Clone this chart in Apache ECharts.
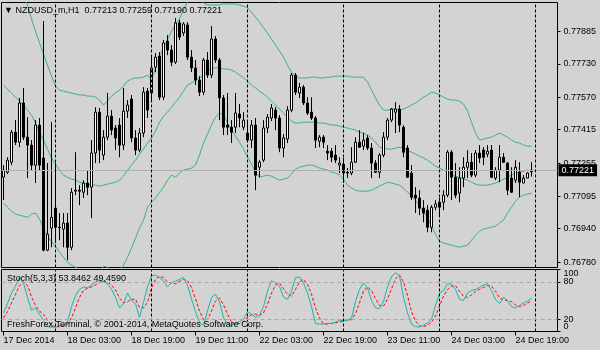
<!DOCTYPE html>
<html><head><meta charset="utf-8">
<script src="https://cdn.jsdelivr.net/npm/echarts@6/dist/echarts.min.js"></script>
<style>html,body{margin:0;padding:0;background:#d3d3d3;}#c{width:600px;height:350px;}</style>
</head><body><div id="c"></div>
<script>
const symbolTitle = '\u25BC NZDUSD_m,H1  0.77213 0.77259 0.77190 0.77221';
const stochTitle = 'Stoch(5,3,3) 53.8462 49.4590';
const copyright = 'FreshForex Terminal, \u00A9 2001-2014, MetaQuotes Software Corp.';
const firstLabel = '17 Dec 2014';
const sessions = [['17 Dec',11,23],['18 Dec',0,23],['19 Dec',0,23],['22 Dec',0,23],['23 Dec',0,23],['24 Dec',0,23],['25 Dec',0,5]];
const priceTicks = [0.76780,0.76940,0.77095,0.77255,0.77415,0.77570,0.77730,0.77885];
const stochInnerTicks = [20,80];
const stochEdgeTicks = [0,100];
const stochLevels = [20,80];
const lastPrice = 0.77221;
const priceMin = 0.76754, priceMax = 0.78025;

// [open, close, low, high]
const candles = [
[0.77187,0.77221,0.77077,0.77245],[0.77211,0.77269,0.77202,0.77283],[0.77259,0.77403,0.77245,0.77413],[0.77403,0.77355,0.77341,0.77461],
[0.77355,0.77543,0.77331,0.77567],[0.77543,0.77379,0.77365,0.77615],[0.77379,0.77341,0.77183,0.77475],[0.77341,0.77245,0.77221,0.77365],
[0.77245,0.77437,0.77159,0.77461],[0.77437,0.77245,0.77221,0.77471],[0.77279,0.76837,0.76832,0.77936],[0.76837,0.76914,0.76832,0.77255],
[0.76943,0.76995,0.76851,0.77451],[0.77039,0.76947,0.76871,0.77255],[0.76947,0.76945,0.76885,0.77015],[0.76938,0.76967,0.76851,0.77015],
[0.76967,0.76851,0.76789,0.77015],[0.76851,0.77115,0.76837,0.77135],[0.77120,0.77125,0.77101,0.77307],[0.77125,0.77120,0.77053,0.77149],
[0.77115,0.77159,0.77087,0.77173],[0.77159,0.77139,0.77101,0.77221],[0.77139,0.77303,0.76991,0.77365],[0.77303,0.77499,0.77255,0.77523],
[0.77499,0.77317,0.77255,0.77519],[0.77293,0.77379,0.77269,0.77413],[0.77379,0.77480,0.77365,0.77591],[0.77480,0.77413,0.77389,0.77509],
[0.77423,0.77375,0.77317,0.77437],[0.77437,0.77341,0.77283,0.77471],[0.77341,0.77504,0.77317,0.77615],[0.77504,0.77533,0.77471,0.77557],
[0.77562,0.77375,0.77355,0.77581],[0.77375,0.77317,0.77293,0.77413],[0.77317,0.77399,0.77307,0.77423],[0.77399,0.77595,0.77379,0.77619],
[0.77600,0.77509,0.77471,0.77615],[0.77591,0.77711,0.77557,0.77773],[0.77715,0.77763,0.77691,0.77783],[0.77768,0.77571,0.77557,0.77787],
[0.77571,0.77831,0.77557,0.77845],[0.77840,0.77797,0.77773,0.77869],[0.77797,0.77739,0.77720,0.77821],[0.77739,0.77927,0.77730,0.77951],
[0.77927,0.77859,0.77845,0.77941],[0.77879,0.77922,0.77864,0.77931],[0.77917,0.77763,0.77749,0.77931],[0.77763,0.77711,0.77691,0.77797],
[0.77711,0.77653,0.77629,0.77749],[0.77653,0.77595,0.77576,0.77672],[0.77595,0.77749,0.77581,0.77759],[0.77749,0.77677,0.77663,0.77787],
[0.77677,0.77850,0.77663,0.77912],[0.77850,0.77749,0.77735,0.77864],[0.77749,0.77567,0.77461,0.77759],[0.77567,0.77427,0.77389,0.77581],
[0.77437,0.77427,0.77389,0.77591],[0.77427,0.77403,0.77351,0.77461],[0.77427,0.77495,0.77399,0.77591],[0.77490,0.77471,0.77427,0.77538],
[0.77427,0.77461,0.77413,0.77499],[0.77399,0.77365,0.77355,0.77461],[0.77365,0.77437,0.77327,0.77461],[0.77437,0.77197,0.77125,0.77471],
[0.77235,0.77259,0.77187,0.77269],[0.77269,0.77423,0.77259,0.77461],[0.77423,0.77475,0.77399,0.77490],[0.77471,0.77519,0.77456,0.77538],
[0.77509,0.77471,0.77413,0.77523],[0.77471,0.77327,0.77307,0.77485],[0.77327,0.77375,0.77283,0.77394],[0.77370,0.77509,0.77351,0.77528],
[0.77509,0.77677,0.77499,0.77687],[0.77677,0.77595,0.77581,0.77687],[0.77591,0.77619,0.77567,0.77639],[0.77619,0.77543,0.77533,0.77629],
[0.77543,0.77495,0.77485,0.77571],[0.77499,0.77471,0.77461,0.77571],[0.77471,0.77365,0.77327,0.77480],[0.77360,0.77379,0.77331,0.77389],
[0.77379,0.77355,0.77327,0.77389],[0.77312,0.77303,0.77269,0.77341],[0.77312,0.77283,0.77259,0.77327],[0.77293,0.77269,0.77255,0.77341],
[0.77245,0.77255,0.77207,0.77283],[0.77250,0.77207,0.77159,0.77279],[0.77211,0.77207,0.77183,0.77231],[0.77207,0.77259,0.77197,0.77331],
[0.77259,0.77355,0.77255,0.77379],[0.77355,0.77331,0.77327,0.77413],[0.77336,0.77365,0.77317,0.77399],[0.77375,0.77327,0.77317,0.77389],
[0.77327,0.77255,0.77183,0.77351],[0.77255,0.77211,0.77207,0.77269],[0.77211,0.77293,0.77183,0.77303],[0.77293,0.77379,0.77283,0.77403],
[0.77379,0.77461,0.77365,0.77471],[0.77461,0.77514,0.77451,0.77519],[0.77499,0.77514,0.77399,0.77547],[0.77514,0.77437,0.77403,0.77533],
[0.77427,0.77307,0.77283,0.77437],[0.77327,0.77187,0.77183,0.77341],[0.77207,0.77091,0.77077,0.77245],[0.77101,0.77087,0.77015,0.77139],
[0.77087,0.77039,0.77005,0.77125],[0.77039,0.77015,0.76971,0.77077],[0.77029,0.76947,0.76923,0.77053],[0.76947,0.77043,0.76923,0.77053],
[0.77043,0.77058,0.77029,0.77077],[0.77067,0.77043,0.77005,0.77087],[0.77067,0.77101,0.77029,0.77125],[0.77101,0.77307,0.77091,0.77317],
[0.77307,0.77187,0.77077,0.77317],[0.77187,0.77101,0.77087,0.77255],[0.77111,0.77183,0.77067,0.77235],[0.77183,0.77235,0.77139,0.77283],
[0.77235,0.77259,0.77183,0.77317],[0.77259,0.77197,0.77187,0.77303],[0.77197,0.77303,0.77187,0.77317],[0.77303,0.77279,0.77255,0.77341],
[0.77317,0.77283,0.77245,0.77331],[0.77298,0.77312,0.77283,0.77341],[0.77317,0.77187,0.77183,0.77341],[0.77183,0.77221,0.77173,0.77235],
[0.77221,0.77283,0.77163,0.77341],[0.77283,0.77259,0.77255,0.77303],[0.77255,0.77125,0.77101,0.77259],[0.77183,0.77115,0.77111,0.77235],
[0.77173,0.77235,0.77159,0.77269],[0.77211,0.77163,0.77091,0.77259],[0.77159,0.77183,0.77159,0.77197],[0.77183,0.77207,0.77183,0.77211],
[0.77213,0.77221,0.77190,0.77259]
];

const bandUpper = [0.78229,0.78210,0.78157,0.78123,0.78085,0.78051,0.78013,0.77946,0.77888,0.77831,
0.77778,0.77725,0.77672,0.77624,0.77605,0.77600,0.77595,0.77591,0.77586,0.77581,
0.77581,0.77576,0.77576,0.77571,0.77557,0.77533,0.77552,0.77576,0.77591,0.77605,
0.77624,0.77648,0.77658,0.77663,0.77663,0.77667,0.77677,0.77653,0.77711,0.77768,
0.77807,0.77845,0.77888,0.77917,0.77946,0.77989,0.78027,0.78061,0.78075,0.78061,
0.78023,0.78013,0.78013,0.78013,0.78013,0.78018,0.78018,0.78018,0.78018,0.78013,
0.78008,0.77999,0.77979,0.77955,0.77931,0.77903,0.77879,0.77850,0.77821,0.77792,
0.77763,0.77725,0.77691,0.77672,0.77663,0.77663,0.77663,0.77667,0.77667,0.77663,
0.77663,0.77667,0.77667,0.77672,0.77672,0.77672,0.77672,0.77667,0.77667,0.77667,
0.77667,0.77643,0.77605,0.77567,0.77533,0.77509,0.77509,0.77514,0.77514,0.77509,
0.77514,0.77523,0.77533,0.77543,0.77557,0.77571,0.77581,0.77595,0.77591,0.77581,
0.77571,0.77562,0.77557,0.77557,0.77552,0.77538,0.77504,0.77451,0.77399,0.77365,
0.77370,0.77375,0.77379,0.77389,0.77399,0.77389,0.77379,0.77365,0.77355,0.77351,
0.77341,0.77336,0.77336];

const bandMiddle = [0.77629,0.77610,0.77591,0.77571,0.77552,0.77533,0.77509,0.77485,0.77447,0.77403,
0.77365,0.77322,0.77279,0.77250,0.77221,0.77197,0.77187,0.77178,0.77173,0.77163,
0.77159,0.77154,0.77149,0.77149,0.77144,0.77149,0.77154,0.77159,0.77163,0.77173,
0.77192,0.77221,0.77245,0.77269,0.77298,0.77322,0.77351,0.77375,0.77408,0.77451,
0.77480,0.77499,0.77523,0.77547,0.77571,0.77600,0.77629,0.77639,0.77653,0.77663,
0.77677,0.77696,0.77711,0.77711,0.77711,0.77706,0.77706,0.77701,0.77691,0.77677,
0.77663,0.77648,0.77629,0.77615,0.77600,0.77586,0.77571,0.77552,0.77533,0.77514,
0.77495,0.77475,0.77456,0.77447,0.77447,0.77451,0.77451,0.77451,0.77451,0.77447,
0.77447,0.77442,0.77437,0.77437,0.77432,0.77427,0.77423,0.77418,0.77413,0.77403,
0.77399,0.77389,0.77375,0.77355,0.77331,0.77327,0.77322,0.77322,0.77327,0.77331,
0.77327,0.77317,0.77307,0.77298,0.77288,0.77279,0.77269,0.77255,0.77240,0.77231,
0.77221,0.77211,0.77202,0.77192,0.77187,0.77178,0.77173,0.77163,0.77154,0.77149,
0.77149,0.77149,0.77154,0.77159,0.77168,0.77178,0.77187,0.77197,0.77207,0.77211,
0.77216,0.77221,0.77216];

const bandLower = [0.77063,0.77043,0.77024,0.77010,0.77005,0.77000,0.76995,0.77010,0.77015,0.76986,
0.76943,0.76904,0.76880,0.76856,0.76827,0.76803,0.76779,0.76765,0.76755,0.76746,
0.76741,0.76736,0.76731,0.76727,0.76731,0.76760,0.76755,0.76741,0.76736,0.76741,
0.76765,0.76803,0.76847,0.76895,0.76943,0.76981,0.77043,0.77067,0.77087,0.77115,
0.77139,0.77173,0.77197,0.77187,0.77207,0.77221,0.77226,0.77231,0.77245,0.77293,
0.77351,0.77394,0.77437,0.77475,0.77495,0.77485,0.77447,0.77413,0.77384,0.77355,
0.77322,0.77283,0.77250,0.77211,0.77187,0.77192,0.77197,0.77192,0.77183,0.77173,
0.77178,0.77183,0.77202,0.77226,0.77235,0.77240,0.77245,0.77245,0.77240,0.77231,
0.77226,0.77221,0.77211,0.77207,0.77197,0.77178,0.77149,0.77135,0.77125,0.77120,
0.77120,0.77120,0.77125,0.77135,0.77144,0.77154,0.77163,0.77159,0.77154,0.77149,
0.77135,0.77115,0.77096,0.77077,0.77048,0.77019,0.76995,0.76952,0.76914,0.76880,
0.76871,0.76866,0.76861,0.76856,0.76851,0.76856,0.76861,0.76885,0.76909,0.76928,
0.76938,0.76943,0.76947,0.76952,0.76967,0.76981,0.77015,0.77043,0.77072,0.77091,
0.77101,0.77106,0.77111];

const stochMain = [30,45,62,73,88,78,55,34,38,28,
18,8,7,7,9,10,16,40,58,68,
72,70,75,80,82,80,77,68,55,38,
45,62,50,45,23,47,72,90,91,87,
82,72,79,81,84,87,75,52,32,15,
10,33,55,60,48,22,13,10,13,16,
20,32,28,23,26,40,65,82,78,73,
55,52,65,87,88,78,62,40,13,12,
12,13,13,15,18,18,18,22,48,68,
78,70,50,38,37,48,72,88,95,90,
55,30,12,8,7,10,14,20,42,62,
66,77,76,68,52,50,62,66,68,71,
75,77,66,52,45,55,50,40,38,42,
46,49,53.8462];

const stochSignal = [22,32,46,60,74,80,74,56,42,33,
28,18,11,7,8,9,12,22,38,55,
66,70,72,75,79,81,80,75,67,54,
46,48,52,52,39,38,47,70,84,89,
87,80,78,77,81,84,82,71,53,33,
19,19,33,49,54,43,28,15,12,13,
16,23,27,28,26,30,44,62,75,78,
69,60,57,68,80,84,76,60,38,22,
12,12,13,14,15,17,18,19,29,46,
65,72,66,53,42,41,52,69,85,91,
80,58,32,17,9,8,10,15,25,41,
57,68,73,74,65,57,55,59,65,68,
71,74,73,65,54,51,50,48,43,40,
42,46,49.4590];

// ---- build ----
const categories = [];
sessions.forEach(([day, h0, h1]) => {
  for (let h = h0; h <= h1; h++) categories.push(day + ' ' + String(h).padStart(2, '0') + ':00');
});
const separators = [];
categories.forEach((c, i) => { if (i > 0 && c.endsWith(' 00:00')) separators.push(i); });

const FONT = 'Liberation Sans';
const txt = {fontFamily: FONT, fontSize: 9, color: '#000', fontWeight: 'normal'};
const sepLines = separators.map(i => ({xAxis: i, lineStyle: {color: '#000', type: [3, 2], width: 1}, label: {show: false}}));
const hiddenAxis = {axisLine: {show: false}, splitLine: {show: false}};

const chart = echarts.init(document.getElementById('c'), null, {renderer: 'canvas'});
chart.setOption({
  animation: false,
  backgroundColor: '#d3d3d3',
  textStyle: {fontFamily: FONT},
  title: [
    {text: symbolTitle, left: 4, top: 6, padding: 0, textStyle: txt},
    {text: stochTitle, left: 7, top: 274, padding: 0, textStyle: txt},
    {text: copyright, left: 7, top: 320, padding: 0, textStyle: txt}
  ],
  grid: [
    {left: 1.5, top: 2.5, width: 556, height: 265, show: true, borderColor: '#000', borderWidth: 1, backgroundColor: 'transparent'},
    {left: 1.5, top: 269.5, width: 556, height: 62, show: true, borderColor: '#000', borderWidth: 1, backgroundColor: 'transparent'}
  ],
  xAxis: [
    {type: 'category', gridIndex: 0, data: categories, boundaryGap: true,
     axisLine: {show: false}, axisTick: {show: false}, axisLabel: {show: false}, splitLine: {show: false}},
    {type: 'category', gridIndex: 1, data: categories, boundaryGap: true,
     axisLine: {show: false},
     axisTick: {show: true, alignWithLabel: true, interval: 15, length: 4, lineStyle: {color: '#000'}},
     axisLabel: Object.assign({interval: 15, align: 'left', margin: 5,
       formatter: (v, idx) => idx === 0 ? firstLabel : v}, txt),
     splitLine: {show: false}}
  ],
  yAxis: [
    Object.assign({type: 'value', gridIndex: 0, position: 'right', min: priceMin, max: priceMax,
     axisTick: {show: true, customValues: priceTicks, length: 3, lineStyle: {color: '#000'}},
     axisLabel: Object.assign({customValues: priceTicks, margin: 6, formatter: v => v.toFixed(5)}, txt)}, hiddenAxis),
    Object.assign({type: 'value', gridIndex: 1, position: 'right', min: 0, max: 100,
     axisTick: {show: true, customValues: stochInnerTicks, length: 3, lineStyle: {color: '#000'}},
     axisLabel: Object.assign({customValues: stochInnerTicks, margin: 6}, txt)}, hiddenAxis),
    Object.assign({type: 'value', gridIndex: 1, position: 'right', min: 0, max: 100,
     axisTick: {show: true, customValues: stochEdgeTicks, length: 3, lineStyle: {color: '#000'}},
     axisLabel: Object.assign({customValues: stochEdgeTicks, margin: 6, showMinLabel: true, showMaxLabel: true,
       verticalAlignMinLabel: 'bottom', verticalAlignMaxLabel: 'top'}, txt)}, hiddenAxis)
  ],
  series: [
    {type: 'line', name: 'upper', xAxisIndex: 0, yAxisIndex: 0, data: bandUpper, showSymbol: false, symbol: 'none',
     lineStyle: {color: '#3cb371', width: 1}, z: 1, silent: true},
    {type: 'line', name: 'middle', xAxisIndex: 0, yAxisIndex: 0, data: bandMiddle, showSymbol: false, symbol: 'none',
     lineStyle: {color: '#3cb371', width: 1}, z: 1, silent: true,
     markLine: {silent: true, symbol: ['none', 'none'], animation: false, precision: 5,
       data: [{yAxis: lastPrice, lineStyle: {color: '#b0b0b0', type: 'solid', width: 1},
         label: {show: true, position: 'end', distance: 1, formatter: lastPrice.toFixed(5),
           backgroundColor: '#000', color: '#fff', padding: [2, 3, 1, 3], fontFamily: FONT, fontSize: 9}}]}},
    {type: 'line', name: 'lower', xAxisIndex: 0, yAxisIndex: 0, data: bandLower, showSymbol: false, symbol: 'none',
     lineStyle: {color: '#3cb371', width: 1}, z: 1, silent: true},
    {type: 'candlestick', name: 'NZDUSD', xAxisIndex: 0, yAxisIndex: 0, data: candles,
     itemStyle: {color: '#ffffff', color0: '#000000', borderColor: '#000000', borderColor0: '#000000', borderWidth: 1},
     z: 3, silent: true,
     markLine: {silent: true, symbol: ['none', 'none'], animation: false, data: sepLines}},
    {type: 'line', name: 'stoch', xAxisIndex: 1, yAxisIndex: 1, data: stochMain, showSymbol: false, symbol: 'none',
     lineStyle: {color: '#20b2aa', width: 1}, z: 3, silent: true,
     markLine: {silent: true, symbol: ['none', 'none'], animation: false,
       data: sepLines.concat(stochLevels.map(v => ({yAxis: v, lineStyle: {color: '#a9a9a9', type: [4, 3], width: 1}, label: {show: false}})))}},
    {type: 'line', name: 'signal', xAxisIndex: 1, yAxisIndex: 1, data: stochSignal, showSymbol: false, symbol: 'none',
     lineStyle: {color: '#ff0000', width: 1, type: [3, 2]}, z: 2, silent: true}
  ]
});
</script>
</body></html>
